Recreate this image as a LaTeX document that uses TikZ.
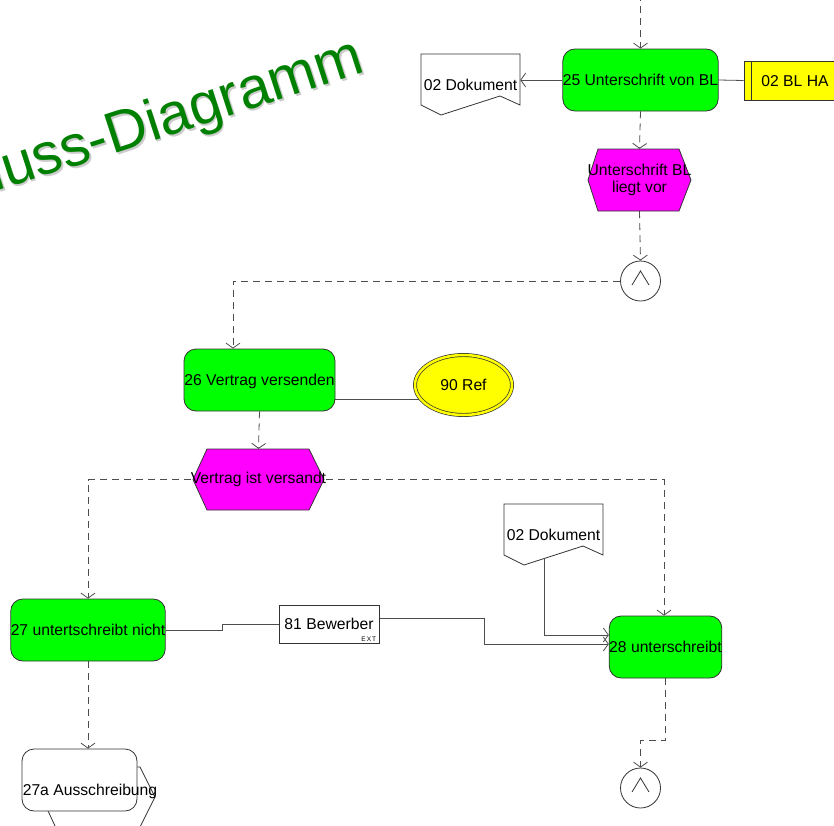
\documentclass[tikz,border=0pt]{standalone}
\usepackage{fontspec}
\setmainfont{Liberation Sans}
\usetikzlibrary{arrows.meta,calc,backgrounds,shapes.geometric}

\definecolor{fungreen}{HTML}{00FF00}
\definecolor{evmagenta}{HTML}{FF00FF}
\definecolor{objyellow}{HTML}{FFFF00}
\definecolor{titlegreen}{HTML}{008000}
\definecolor{titleshadow}{HTML}{CCCCCC}
\definecolor{lcol}{HTML}{4D4D4D}
\definecolor{ocol}{HTML}{333333}

\tikzset{
  txt/.style={font=\fontsize{15.7bp}{17bp}\selectfont, text=black, inner sep=0pt, align=center},
  oneline/.style={txt, text height=15bp, text depth=3.5bp},
  func/.style={oneline, draw=ocol, line width=0.8bp, fill=fungreen, rounded corners=12bp, minimum height=62bp},
  iface/.style={func, fill=white},
  orgbox/.style={oneline, draw=ocol, line width=0.8bp, fill=objyellow, minimum height=39bp},
  extbox/.style={oneline, draw=ocol, line width=0.8bp, fill=white, minimum height=38bp},
  refell/.style={oneline, ellipse, draw=ocol, line width=0.7bp, double=objyellow, double distance=2.5bp, fill=objyellow},
  andop/.style={circle, draw=ocol, fill=white, line width=0.8bp, minimum size=40bp, inner sep=0pt},
  shapeline/.style={draw=ocol, line width=0.8bp},
  flow/.style={draw=lcol, line width=0.8bp, dash pattern=on 7bp off 5bp, -{Straight Barb[length=5bp,width=14bp]}},
  link/.style={draw=lcol, line width=0.8bp},
  linkarrow/.style={link, -{Straight Barb[length=5bp,width=14bp]}},
  titletxt/.style={font=\fontsize{58bp}{60bp}\selectfont, inner sep=0pt, anchor=base west, rotate=18}
}

% event: name, centre x, centre y, width, height, left inset, right inset, text
\newcommand{\eventnode}[8]{%
  \filldraw[shapeline, fill=evmagenta]
    ({#2-#4/2},#3) -- ({#2-#4/2+#6},{#3-#5/2}) -- ({#2+#4/2-#7},{#3-#5/2})
    -- ({#2+#4/2},#3) -- ({#2+#4/2-#7},{#3+#5/2}) -- ({#2-#4/2+#6},{#3+#5/2}) -- cycle;
  \node[txt, minimum width=#4bp, minimum height=#5bp] (#1) at (#2,#3) {#8};}

% document: name, top-left x, top-left y, text
\newcommand{\docnode}[4]{%
  \filldraw[shapeline, fill=white] (#2,#3) -- ++(99,0) -- ++(0,51) -- ++(-20,-9)
    -- ++(-59,19) -- ++(-20,-10) -- cycle;
  \node[oneline, minimum width=99bp, minimum height=61bp] (#1) at ({#2+49.5},{#3+31}) {#4};}

\begin{document}
\begin{tikzpicture}[x=1bp, y=-1bp]
  \path[use as bounding box] (0,0) rectangle (834,826);
  \clip (0,0) rectangle (834,826);

  % title
  \node[titletxt, text=titleshadow] (titleshade) at (-2.5,194) {luss-Diagramm};
  \node[titletxt, text=titlegreen] (title) at (-4.3,192) {luss-Diagramm};

  % upper part
  \coordinate (entry) at (640.5,-6);
  \node[func, minimum width=155bp] (f25) at (640.5,80) {25 Unterschrift von BL};
  \docnode{doc1}{421}{54}{02 Dokument}
  \node[orgbox, minimum width=102bp] (blha) at (795,80.5) {02 BL HA};
  \draw[shapeline] ([xshift=8bp]blha.north west) -- ([xshift=8bp]blha.south west);
  \eventnode{ev1}{639.5}{180}{103}{62}{10}{12}{Unterschrift BL\\liegt vor}
  \node[andop] (and1) at (640.5,281) {};
  \draw[shapeline] ($(and1)+(-8.5,4)$) -- ($(and1)+(0,-10)$) -- ($(and1)+(8.5,4)$);

  % middle part
  \node[func, minimum width=151bp] (f26) at (259.5,380) {26 Vertrag versenden};
  \node[refell, minimum width=97bp, minimum height=60bp] (ref) at (463.5,385) {90 Ref};
  \eventnode{ev2}{258.5}{479.5}{131}{61}{14}{15}{Vertrag ist versandt}

  % lower part
  \node[func, minimum width=152bp] (f27) at (88,630) {27 untertschreibt nicht};
  \node[extbox, minimum width=100bp] (bew) at (329,624) {81 Bewerber};
  \node[font=\fontsize{6.5bp}{7bp}\selectfont, inner sep=0pt, anchor=south east]
    (bewext) at ([xshift=-3bp,yshift=1.5bp]bew.south east) {E\,X\,T};
  \docnode{doc2}{504}{504}{02 Dokument}
  \coordinate (doc2out) at (544,559);
  \node[func, minimum width=111bp] (f28) at (665.5,647) {28 unterschreibt};
  \node[andop] (and2) at (640.5,788) {};
  \draw[shapeline] ($(and2)+(-8.5,4)$) -- ($(and2)+(0,-10)$) -- ($(and2)+(8.5,4)$);

  % process interface
  \filldraw[shapeline, fill=white] (41.5,797) -- (55.5,767) -- (140,767) -- (155,797)
    -- (140,827) -- (55.5,827) -- cycle;
  \node[iface, minimum width=115bp] (f27a) at (79.5,780) {};
  \node[oneline] (t27a) at (90,790) {27a Ausschreibung};

  % connectors
  \begin{scope}[on background layer]
    \draw[flow] (entry) -- (f25.north);
    \draw[linkarrow] (f25.west) -- (f25.west -| doc1.east);
    \draw[link] (f25.east) -- (blha.west);
    \draw[flow] (f25.south) -- (ev1.north);
    \draw[flow] (ev1.south) -- (and1.north);
    \draw[flow] (and1.west) -| ([xshift=-26.5bp]f26.north);
    \draw[link] ([yshift=-19bp]f26.east) -- ([yshift=-19bp]f26.east -| ref.center);
    \draw[flow] (f26.south) -- (ev2.north);
    \draw[flow] (ev2.west) -| (f27.north);
    \draw[flow] (ev2.east) -| ([xshift=-1.5bp]f28.north);
    \draw[link] (f27.east) -- ++(57,0) |- (bew.west);
    \draw[linkarrow] ([yshift=6bp]bew.east) -- ++(105,0) |- ([yshift=3bp]f28.west);
    \draw[linkarrow] (doc2out) |- ([yshift=12bp]f28.west);
    \draw[flow] (f28.south) -- ++(0,62) -| (and2.north);
    \draw[flow] (f27.south) -- (f27.south |- f27a.north);
  \end{scope}
\end{tikzpicture}
\end{document}
